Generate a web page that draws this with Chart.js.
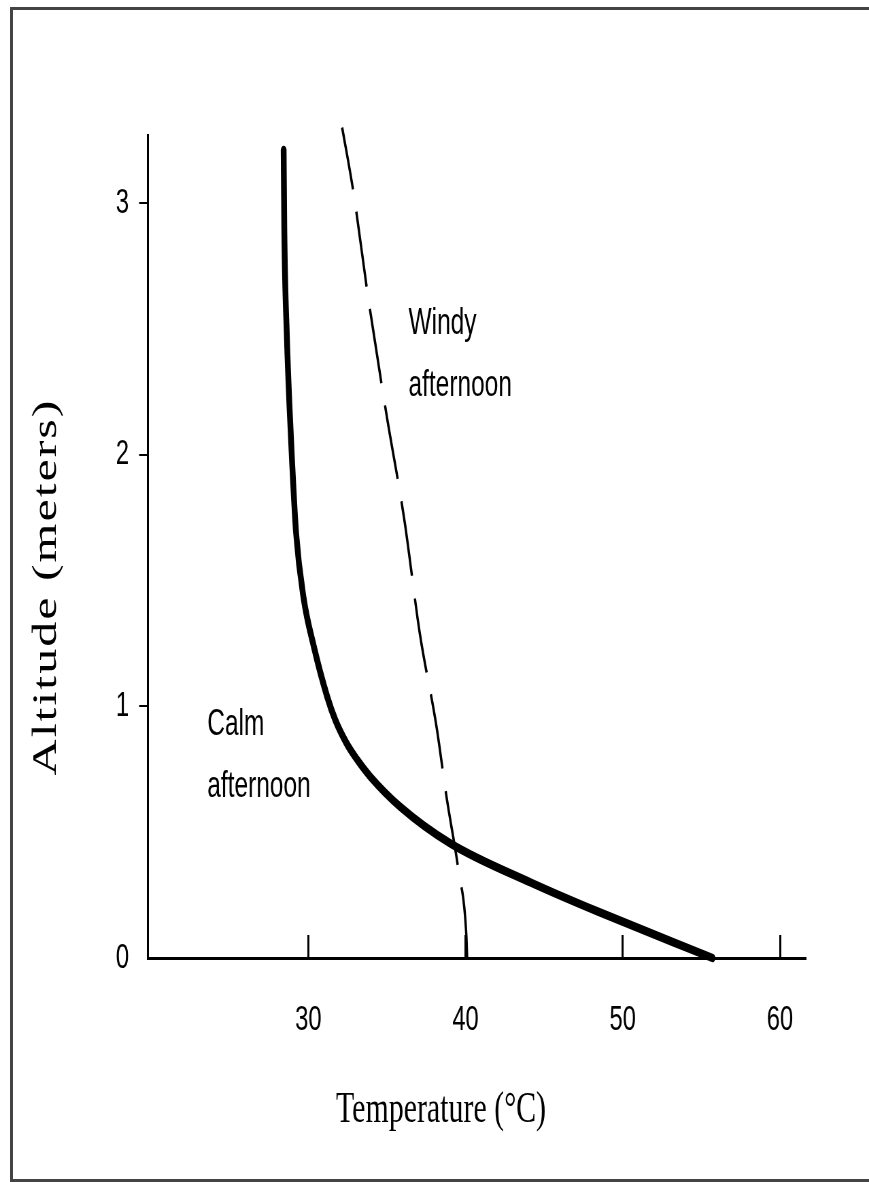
<!DOCTYPE html>
<html>
<head>
<meta charset="utf-8">
<script src="https://cdn.jsdelivr.net/npm/chart.js@4/dist/chart.umd.min.js"></script>
<style>
  html, body { margin: 0; padding: 0; background: #fff; overflow: hidden; width: 869px; height: 1182px; }
  #frame {
    position: absolute; left: 10px; top: 7px; width: 880px; height: 1169px;
    border-left: 3px solid #444; border-top: 3px solid #444; border-bottom: 3px solid #444;
    box-sizing: content-box;
  }
  #wrap {
    position: absolute; left: 0; top: 0; width: 1278px; height: 1182px;
    transform: scaleX(0.68); transform-origin: 0 0;
  }
</style>
</head>
<body>
<div id="frame"></div>
<div id="wrap"><canvas id="chart" width="1278" height="1182"></canvas></div>
<script>
// squeeze factor of the picture (everything is drawn wide, then narrowed by css)
const SX = 0.68;

// calm afternoon: temperature (°C) against altitude (m)
const calmTemp = [28.43, 28.47, 28.64, 28.81, 28.96, 29.22, 29.70, 30.34, 31.19, 31.72, 32.46, 33.12, 33.95, 35.86, 39.04, 44.14, 48.39, 55.71];
const calmAlt  = [3.21, 2.90, 2.46, 2.18, 1.98, 1.69, 1.43, 1.24, 1.04, 0.945, 0.85, 0.787, 0.72, 0.60, 0.455, 0.30, 0.185, 0.00];

// windy afternoon
const windyTemp = [32.15, 32.85, 33.84, 34.97, 36.11, 37.09, 38.15, 38.79, 39.57, 40.05, 40.10];
const windyAlt  = [3.30, 3.05, 2.61, 2.16, 1.74, 1.29, 0.92, 0.64, 0.34, 0.09, 0.00];

const xTicks = [30, 40, 50, 60];
const yTicks = [0, 1, 2, 3];

const xTitle = 'Temperature (°C)';
const yTitle = 'Altitude (meters)';

// curve labels, anchored at data coordinates (left edge, first baseline)
const curveNotes = [
  { lines: ['Windy', 'afternoon'], at: [36.37, 2.48] },
  { lines: ['Calm', 'afternoon'], at: [23.57, 0.886] },
];

const toPoints = (xs, ys) => xs.map((x, i) => ({ x: x, y: ys[i] }));

const sansFont = '"Liberation Sans", Arial, sans-serif';

Chart.defaults.color = '#000';

const textLabels = {
  id: 'textLabels',
  afterDraw(chart) {
    const ctx = chart.ctx;
    const { x, y } = chart.scales;
    ctx.save();
    ctx.fillStyle = '#000';

    // notes next to the curves
    ctx.font = '36px ' + sansFont;
    ctx.textAlign = 'left';
    ctx.textBaseline = 'alphabetic';
    curveNotes.forEach(note => {
      const px = x.getPixelForValue(note.at[0]);
      const py = y.getPixelForValue(note.at[1]);
      note.lines.forEach((t, i) => ctx.fillText(t, px, py + i * 62));
    });

    // axis titles
    ctx.font = '44px "Liberation Serif", "Times New Roman", serif';
    ctx.textAlign = 'center';
    ctx.fillText(xTitle, 441 / SX, 1122);

    ctx.translate(47 / SX, 587);
    ctx.rotate(-Math.PI / 2);
    ctx.font = '50px "Liberation Serif", "Times New Roman", serif';
    ctx.letterSpacing = '2px';
    ctx.textBaseline = 'middle';
    ctx.fillText(yTitle, 0, 0);
    ctx.restore();
  }
};

new Chart(document.getElementById('chart').getContext('2d'), {
  type: 'line',
  data: {
    datasets: [
      {
        label: 'Calm afternoon',
        data: toPoints(calmTemp, calmAlt),
        borderColor: '#000',
        borderWidth: 8.5,
        borderCapStyle: 'round',
        pointRadius: 0,
        cubicInterpolationMode: 'monotone',
        clip: false,
      },
      {
        label: 'Windy afternoon',
        data: toPoints(windyTemp, windyAlt),
        borderColor: '#000',
        borderWidth: 3.5,
        borderDash: [76, 23],
        borderDashOffset: 12,
        pointRadius: 0,
        cubicInterpolationMode: 'monotone',
        clip: false,
      }
    ]
  },
  options: {
    responsive: false,
    animation: false,
    devicePixelRatio: 1,
    layout: { padding: { top: 135, right: 94, left: 0, bottom: 0 } },
    plugins: { legend: { display: false }, tooltip: { enabled: false } },
    scales: {
      x: {
        type: 'linear',
        min: 19.8,
        max: 61.6,
        afterBuildTicks: scale => { scale.ticks = xTicks.map(v => ({ value: v })); },
        afterFit: scale => { scale.height = 224; },
        border: { display: true, color: '#000', width: 3 },
        grid: { display: true, drawOnChartArea: false, drawTicks: true, tickLength: -23, color: '#000', lineWidth: 3 },
        ticks: { font: { family: sansFont, size: 35 }, padding: 64, maxRotation: 0 }
      },
      y: {
        type: 'linear',
        min: 0,
        max: 3.27,
        afterBuildTicks: scale => { scale.ticks = yTicks.map(v => ({ value: v })); },
        afterFit: scale => { scale.width = 217.6; },
        border: { display: true, color: '#000', width: 3 },
        grid: {
          display: true, drawOnChartArea: false, drawTicks: true, tickLength: 13, lineWidth: 2,
          color: c => (c.tick && c.tick.value === 0 ? 'rgba(0,0,0,0)' : '#000')
        },
        ticks: { font: { family: sansFont, size: 35 }, padding: 15 }
      }
    }
  },
  plugins: [textLabels]
});
</script>
</body>
</html>
